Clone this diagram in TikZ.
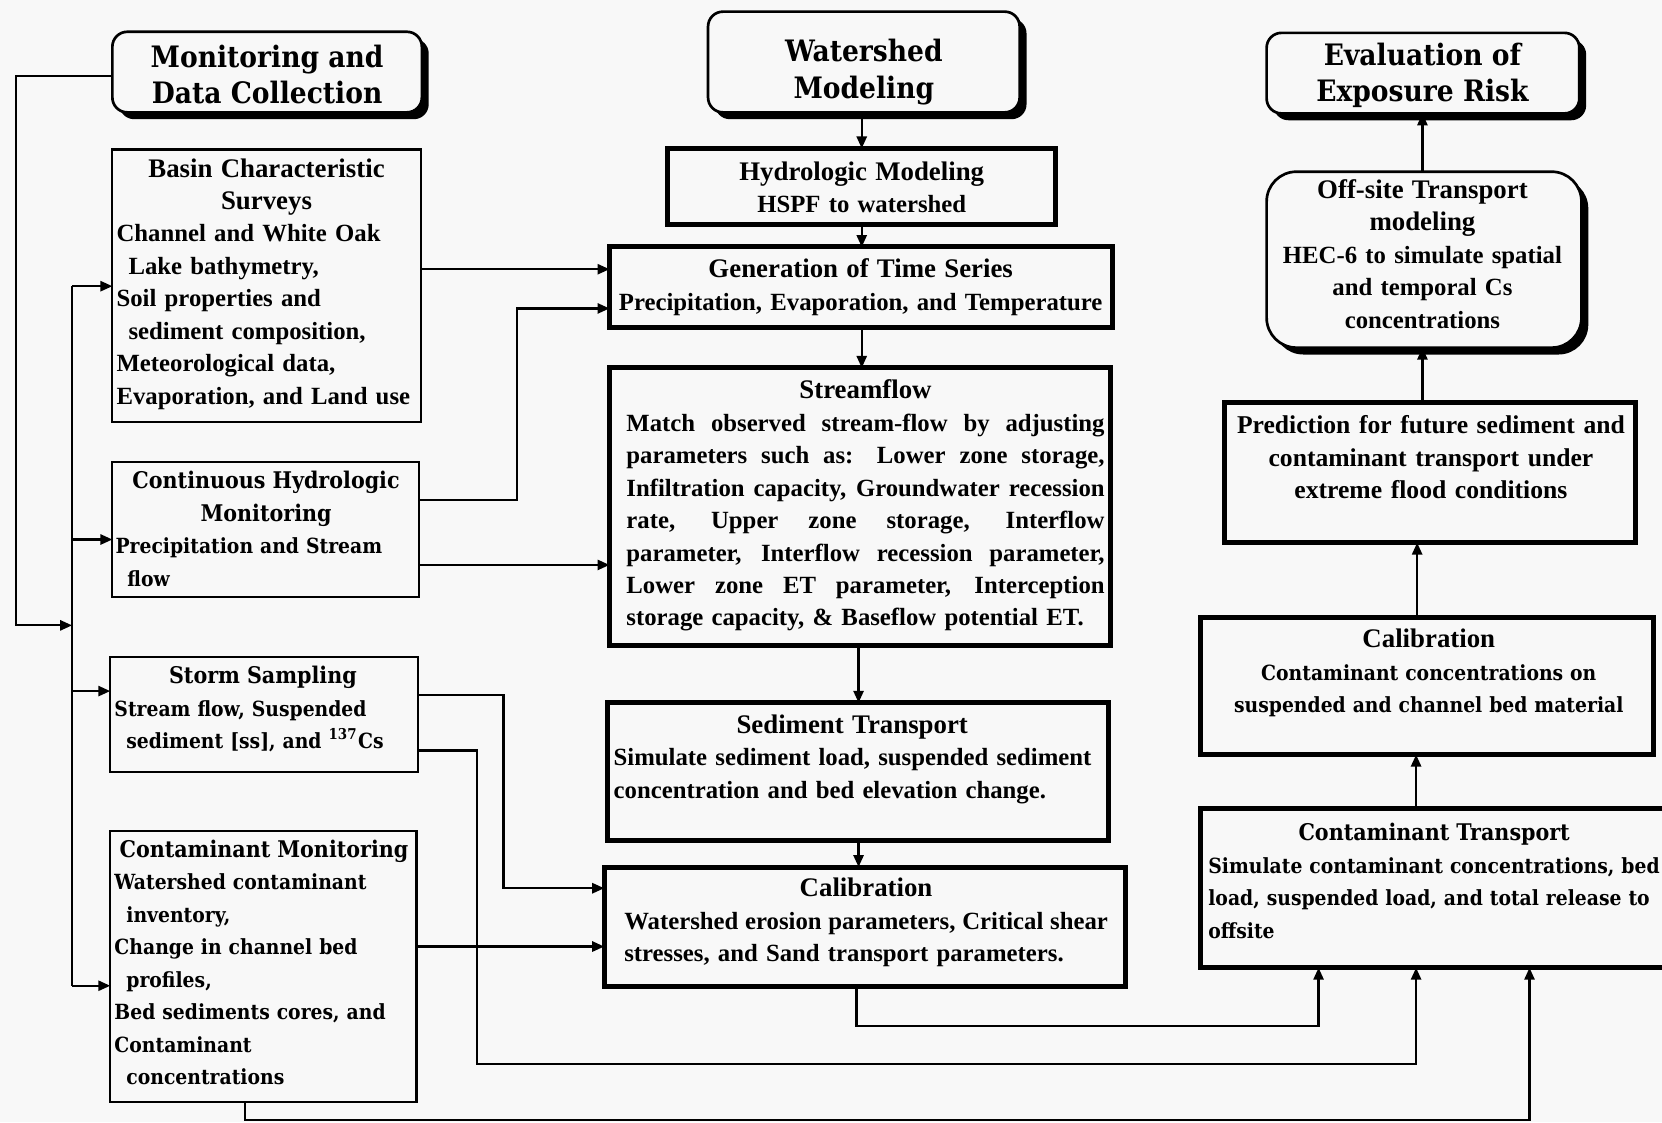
\documentclass[tikz,border=0pt]{standalone}
\usepackage{fontspec}
\setmainfont{Liberation Serif}
\newfontfamily\dvc[FakeStretch=0.9]{DejaVu Serif}
\usetikzlibrary{arrows.meta,shadows,fit}
\definecolor{bgc}{RGB}{248,248,248}
\newcommand\bodyf{\rmfamily\bfseries\fontsize{8.3}{10.9}\selectfont}
\newcommand\headf{\rmfamily\bfseries\fontsize{9}{10.9}\selectfont}
\newcommand\predf{\rmfamily\bfseries\fontsize{8.6}{10.9}\selectfont}
\newcommand\cbody{\dvc\bfseries\fontsize{7.0}{10.9}\selectfont}
\newcommand\chead{\dvc\bfseries\fontsize{7.7}{10.9}\selectfont}
\newcommand\ttlf{\dvc\bfseries\fontsize{9.9}{12.1}\selectfont}
\newcommand\jl[1]{{\spaceskip=0pt\xspaceskip=0pt\relax\makebox[\hsize][s]{#1}}}
\tikzset{
  every node/.style={inner sep=0pt, outer sep=0pt},
  tbox/.style={draw, line width=0.75pt},
  kbox/.style={draw, line width=1.7pt},
  rbox/.style={draw, line width=0.9pt, rounded corners=5pt, fill=bgc,
    drop shadow={shadow xshift=2.3pt, shadow yshift=-2.3pt, fill=black, opacity=1}},
  conn/.style={line width=0.75pt},
  arr/.style={conn, -{Triangle[length=4pt,width=3.4pt]}},
  blk/.style={anchor=base west, align=left, text width=#1},
  cblk/.style={anchor=base, align=center, text width=#1},
}
\begin{document}
\begin{tikzpicture}[x=0.0125cm,y=-0.0125cm]
\useasboundingbox (0,0) rectangle (1568,1059);
\fill[bgc] (0,0) rectangle (1568,1059);
\clip (0,0) rectangle (1568,1059);

% ---------- boxes ----------
\node[rbox, fit={(106,30) (398,106)}] (mdc) {};
\node[rbox, fit={(668,11) (962,106)}] (ws) {};
\node[rbox, fit={(1195,31) (1490,107)}] (ev) {};
\node[rbox, rounded corners=10pt, fit={(1195,162) (1492,328)}] (off) {};

\node[tbox, fit={(106,141) (397,398)}] (basin) {};
\node[tbox, fit={(106,436) (395,563)}] (cont) {};
\node[tbox, fit={(104,620) (394,728)}] (storm) {};
\node[tbox, fit={(104,784) (393,1040)}] (cmon) {};

\node[kbox, fit={(630,140) (996,212)}] (hyd) {};
\node[kbox, fit={(575,233) (1050,309)}] (gen) {};
\node[kbox, fit={(575,347) (1048,609)}] (sf) {};
\node[kbox, fit={(573,663) (1046,793)}] (sed) {};
\node[kbox, fit={(570,818) (1062,931)}] (calm) {};

\node[kbox, fit={(1155,380) (1543,512)}] (pred) {};
\node[kbox, fit={(1133,583) (1560,712)}] (calr) {};
\node[kbox, fit={(1133,763) (1590,913)}] (ct) {};

% ---------- texts ----------
\node[font=\ttlf, align=center] (mdcT) at (252,70) {Monitoring and\\Data Collection};
\node[font=\ttlf, align=center] (wsT) at (815,68) {Watershed\\Modeling};
\node[font=\ttlf, align=center] (evT) at (1342,71) {Evaluation of\\Exposure Risk};

\node[blk=100.6pt, font=\bodyf] (basinT) at (110,167) {{\centering\headf Basin Characteristic\\Surveys\par}
Channel and White Oak\\
\hspace*{4pt}Lake bathymetry,\\
Soil properties and\\
\hspace*{4pt}sediment composition,\\
Meteorological data,\\
Evaporation, and Land use};

\node[blk=101pt, font=\cbody] (contT) at (109,461) {{\centering\chead Continuous Hydrologic\\Monitoring\par}
\mbox{Precipitation and Stream}\\
\hspace*{4pt}flow};

\node[blk=99.6pt, font=\cbody] (stormT) at (108,645) {{\centering\chead Storm Sampling\par}
\mbox{Stream flow, Suspended}\\
\hspace*{4pt}\mbox{sediment [ss], and \textsuperscript{137}Cs}};

\node[blk=100.3pt, font=\cbody] (cmonT) at (108,809) {{\centering\chead \mbox{Contaminant Monitoring}\par}
\mbox{Watershed contaminant}\\
\hspace*{4pt}inventory,\\
\mbox{Change in channel bed}\\
\hspace*{4pt}profiles,\\
\mbox{Bed sediments cores, and}\\
Contaminant\\
\hspace*{4pt}concentrations};

\node[cblk=121pt, font=\bodyf] (hydT) at (813,170) {{\headf Hydrologic Modeling}\\HSPF to watershed};
\node[cblk=166pt, font=\bodyf] (genT) at (812,262) {{\headf Generation of Time Series}\\\mbox{Precipitation, Evaporation, and Temperature}};

\node[blk=160.4pt, font=\bodyf] (sfT) at (591,376) {{\centering\headf Streamflow\par}
\jl{Match observed stream-flow by adjusting}\\
\jl{parameters such as: Lower zone storage,}\\
\jl{Infiltration capacity, Groundwater recession}\\
\jl{rate, Upper zone storage, Interflow}\\
\jl{parameter, Interflow recession parameter,}\\
\jl{Lower zone ET parameter, Interception}\\
storage capacity, \& Baseflow potential ET.};

\node[blk=160pt, font=\bodyf] (sedT) at (579,692) {{\centering\headf Sediment Transport\par}
\mbox{Simulate sediment load, suspended sediment}\\
concentration and bed elevation change.};

\node[blk=162.2pt, font=\bodyf] (calmT) at (589,846) {{\centering\headf Calibration\par}
\jl{Watershed erosion parameters, Critical shear}\\
stresses, and Sand transport parameters.};

\node[cblk=99.6pt, font=\bodyf] (offT) at (1342,187) {{\headf Off-site Transport\\modeling}\\HEC-6 to simulate spatial\\and temporal Cs\\concentrations};

\node[cblk=132pt, font=\predf] (predT) at (1350,409) {\mbox{Prediction for future sediment and}\\contaminant transport under\\extreme flood conditions};

\node[cblk=142pt, font=\cbody] (calrT) at (1348,611) {{\headf Calibration}\\\mbox{Contaminant concentrations on}\\\mbox{suspended and channel bed material}};

\node[blk=151.5pt, font=\cbody] (ctT) at (1140,793) {{\centering\chead Contaminant Transport\par}
\mbox{Simulate contaminant concentrations, bed}\\
\mbox{load, suspended load, and total release to}\\
offsite};

% ---------- connectors ----------
\coordinate (busT) at (68,270);
\coordinate (busC) at (68,509);
\coordinate (busM) at (68,590);
\coordinate (busS) at (68,652);
\coordinate (busB) at (68,930);
\draw[conn] (busT) -- (busB);
\draw[arr] (mdc.west |- 0,72) -| (15,590) -- (busM);
\draw[arr] (busT) -- (basin.west |- busT);
\draw[arr] (busC) -- (cont.west |- busC);
\draw[arr] (busS) -- (storm.west |- busS);
\draw[arr] (busB) -- (cmon.west |- busB);

\draw[arr] (basin.east |- 0,254) -- (gen.west |- 0,254);
\draw[arr] (cont.east |- 0,472) -| (488,291) -- (gen.west |- 0,291);
\draw[arr] (cont.east |- 0,533) -- (sf.west |- 0,533);
\draw[arr] (storm.east |- 0,656) -| (475,838) -- (calm.west |- 0,838);
\draw[arr] (storm.east |- 0,708) -| (450,1004) -| (ct.south -| 1336,0);
\draw[arr] (cmon.east |- 0,893) -- (calm.west |- 0,893);
\draw[arr] (cmon.south -| 231,0) |- (1443,1057) -- (ct.south -| 1443,0);
\draw[arr] (calm.south -| 808,0) |- (1244,968) -- (ct.south -| 1244,0);

\draw[arr] (ws.south -| 813,0) -- (hyd.north -| 813,0);
\draw[arr] (hyd.south -| 813,0) -- (gen.north -| 813,0);
\draw[arr] (gen.south -| 813,0) -- (sf.north -| 813,0);
\draw[arr] (sf.south -| 810,0) -- (sed.north -| 810,0);
\draw[arr] (sed.south -| 810,0) -- (calm.north -| 810,0);

\draw[arr] (ct.north -| 1336,0) -- (calr.south -| 1336,0);
\draw[arr] (calr.north -| 1337,0) -- (pred.south -| 1337,0);
\draw[arr] (pred.north -| 1342,0) -- (off.south -| 1342,0);
\draw[arr] (off.north -| 1342,0) -- (ev.south -| 1342,0);
\end{tikzpicture}
\end{document}
